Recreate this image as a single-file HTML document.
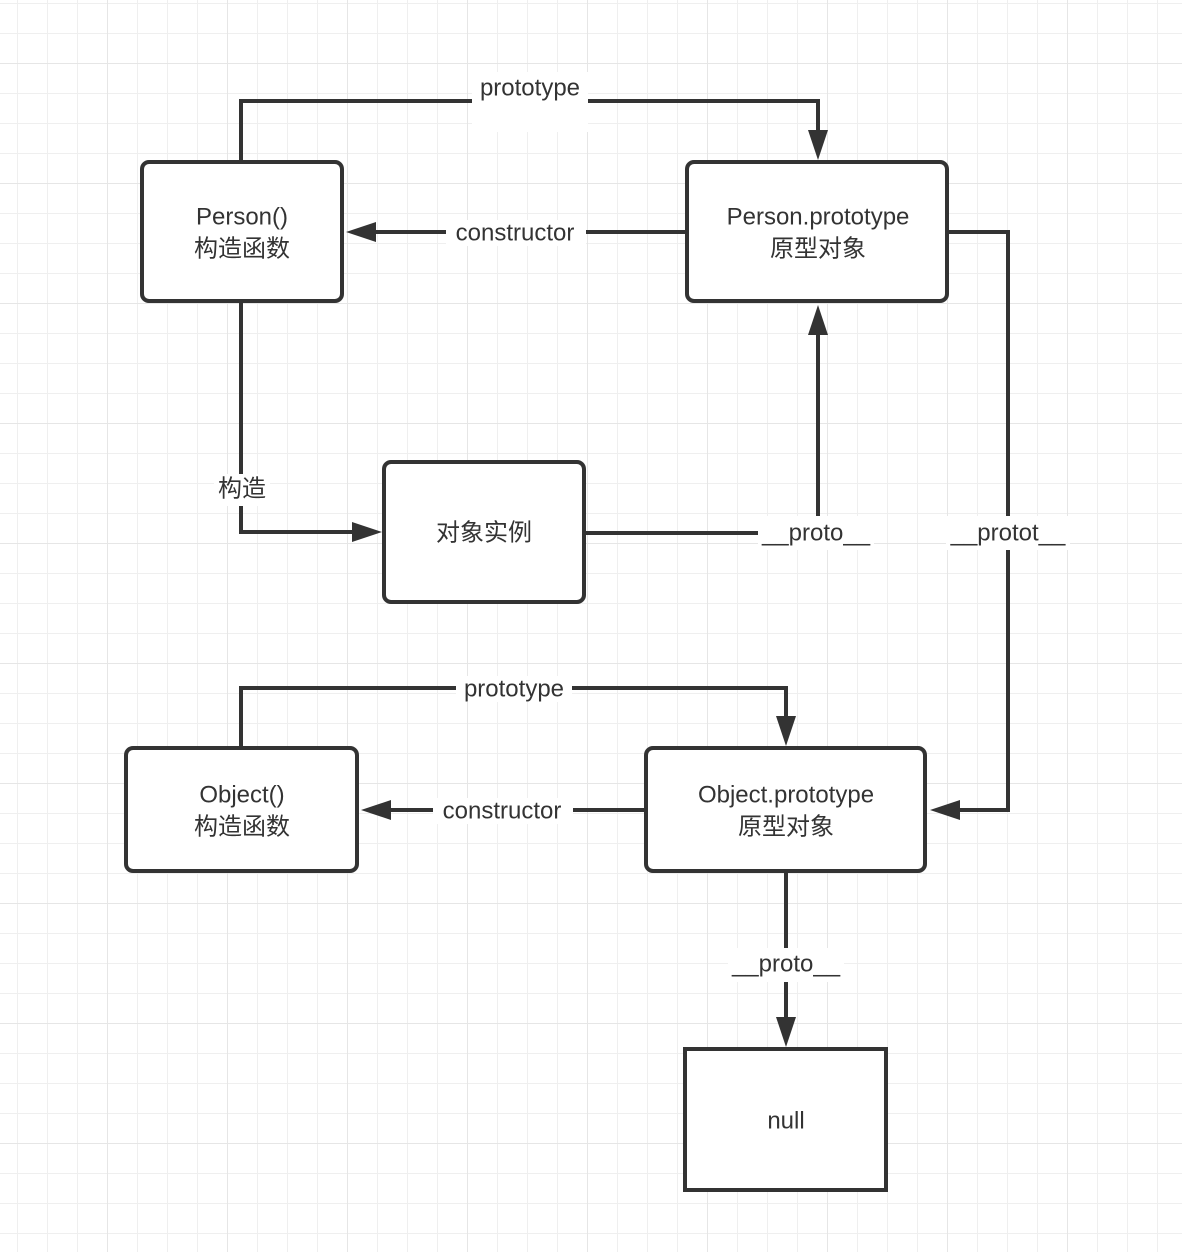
<!DOCTYPE html>
<html><head><meta charset="utf-8"><style>
html,body{margin:0;padding:0;background:#fff;}
svg{display:block}
text{font-family:"Liberation Sans","Noto Sans CJK SC",sans-serif;font-size:24px;fill:#333;text-anchor:middle;dominant-baseline:central}
</style></head><body>
<svg width="1182" height="1252" viewBox="0 0 1182 1252" xmlns="http://www.w3.org/2000/svg">
<defs>
<pattern id="minor" x="17" y="3" width="30" height="30" patternUnits="userSpaceOnUse">
<path d="M0 0V30M0 0H30" stroke="#efefef" stroke-width="2" fill="none"/>
</pattern>
<pattern id="major" x="107" y="63" width="120" height="120" patternUnits="userSpaceOnUse">
<path d="M0 0V120M0 0H120" stroke="#e6e6e6" stroke-width="2" fill="none"/>
</pattern>
<marker id="a" markerWidth="10" markerHeight="10" refX="9" refY="5" orient="auto" markerUnits="userSpaceOnUse" viewBox="0 0 10 10">
</marker>
</defs>
<rect width="1182" height="1252" fill="url(#minor)"/>
<rect width="1182" height="1252" fill="url(#major)"/>
<g stroke="#333" stroke-width="4" fill="none">
<path d="M241 162V101H818V140"/>
<path d="M687 232H366"/>
<path d="M241 301V532H362"/>
<path d="M584 533H818V325"/>
<path d="M947 232H1008V810H950"/>
<path d="M241 748V688H786V726"/>
<path d="M646 810H381"/>
<path d="M786 871V1027"/>
</g>
<g fill="#333">
<polygon points="808,130 828,130 818,160"/>
<polygon points="376,222 376,242 346,232"/>
<polygon points="352,522 352,542 382,532"/>
<polygon points="808,335 828,335 818,305"/>
<polygon points="960,800 960,820 930,810"/>
<polygon points="776,716 796,716 786,746"/>
<polygon points="391,800 391,820 361,810"/>
<polygon points="776,1017 796,1017 786,1047"/>
</g>
<g fill="#fff">
<rect x="472" y="72" width="116" height="60"/>
<rect x="446" y="220" width="140" height="26"/>
<rect x="214" y="474" width="56" height="32"/>
<rect x="758" y="516" width="116" height="34"/>
<rect x="946" y="516" width="124" height="34"/>
<rect x="456" y="676" width="116" height="26"/>
<rect x="433" y="798" width="140" height="26"/>
<rect x="728" y="948" width="116" height="34"/>
</g>
<g stroke="#333" stroke-width="4" fill="#fff">
<rect x="142" y="162" width="200" height="139" rx="7"/>
<rect x="687" y="162" width="260" height="139" rx="7"/>
<rect x="384" y="462" width="200" height="140" rx="7"/>
<rect x="126" y="748" width="231" height="123" rx="7"/>
<rect x="646" y="748" width="279" height="123" rx="7"/>
<rect x="685" y="1049" width="201" height="141"/>
</g>
<text x="530" y="88">prototype</text>
<text x="515" y="233">constructor</text>
<text x="242" y="489">构造</text>
<text x="816" y="533">__proto__</text>
<text x="1008" y="533">__protot__</text>
<text x="514" y="689">prototype</text>
<text x="502" y="811">constructor</text>
<text x="786" y="964">__proto__</text>
<text x="242" y="217">Person()</text>
<text x="242" y="249">构造函数</text>
<text x="818" y="217">Person.prototype</text>
<text x="818" y="249">原型对象</text>
<text x="484" y="533">对象实例</text>
<text x="242" y="795">Object()</text>
<text x="242" y="827">构造函数</text>
<text x="786" y="795">Object.prototype</text>
<text x="786" y="827">原型对象</text>
<text x="786" y="1121">null</text>
</svg>
</body></html>
